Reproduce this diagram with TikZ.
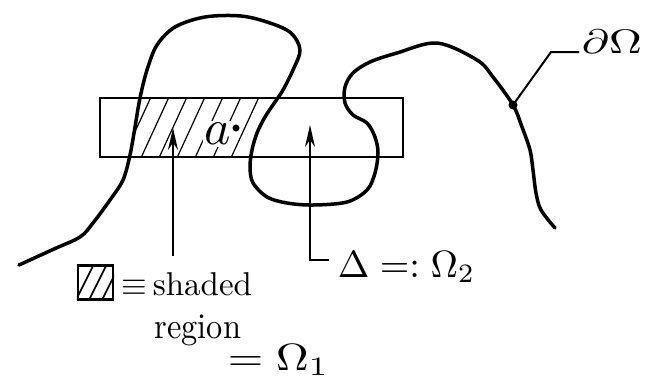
\documentclass[tikz,border=0pt]{standalone}
\usetikzlibrary{arrows.meta}
\begin{document}
\begin{tikzpicture}[x=1pt,y=-1pt,
  curve/.style={line width=3.5pt,line cap=round,line join=round},
  frame/.style={line width=2.4pt},
  pointer/.style={line width=2pt,-{Stealth[length=22pt,width=10pt]}},
  leader/.style={line width=2pt},
  hatch/.style={line width=1.2pt},
  lbl/.style={inner sep=0pt}]
\useasboundingbox (0,0) rectangle (652,391);

% hatched part of the strip (Omega_1)
\begin{scope}
  \clip (140,98) -- (135,127) -- (131,150) -- (130,157) -- (251,157) -- (252,150) -- (257,133) -- (265,117) -- (278,98) -- cycle;
  \foreach \x in {104,122,...,300} \draw[hatch] (\x,160) -- ++(29,-63);
\end{scope}

% the strip Delta
\draw[frame] (100,98) rectangle (403,157);

% boundary curve
\draw[curve] plot[smooth,tension=0.55] coordinates {
 (19,265) (54,249) (80,237) (93,223) (110,200) (123,180) (130,155) (135,127)
 (140,98) (147,70) (157,45) (175,27) (205,17) (241,16) (270,23) (291,33)
 (300,50) (293,70) (283,90) (275,102) (265,117) (257,133) (252,150) (250,167)
 (253,183) (267,197) (287,203) (313,205) (347,202) (367,190) (375,173) (378,153)
 (375,137) (367,123) (353,115) (345,103) (345,87) (353,73) (370,62) (397,53)
 (437,43) (477,60) (493,77) (513,105) (522,127) (530,150) (533,170) (536,193)
 (541,210) (555,228)};

% point a
\node[lbl,fill=white,inner sep=0.4pt,scale=5] (alab) at (218,134) {$a$};
\node[circle,fill,inner sep=0pt,minimum size=7pt] (adot) at (236,128) {};

% label of the boundary
\node[circle,fill,inner sep=0pt,minimum size=9pt] (pd) at (513,105) {};
\coordinate (lk) at (551,52);
\coordinate (le) at (579,52);
\node[lbl,anchor=base west,scale=3.4,xscale=1.35] (dO) at (581,53) {$\partial\Omega$};
\draw[leader] (pd.center) -- (lk) -- (le);

% arrow to the shaded region
\coordinate (s1) at (173,256);
\coordinate (t1) at (173,128);
\draw[pointer] (s1) -- (t1);

% arrow to Delta = Omega_2
\node[lbl,anchor=base west,scale=3.8] (om2) at (337,277) {$\Delta =: \Omega_2$};
\coordinate (c2) at (329,260);
\coordinate (k2) at (310,260);
\coordinate (t2) at (310,125);
\draw[pointer,line join=miter] (c2) -- (k2) -- (t2);

% legend
\node[draw,line width=2.2pt,minimum width=35pt,minimum height=34pt,inner sep=0pt] (leg) at (95.5,282.5) {};
\begin{scope}
  \clip (leg.south west) rectangle (leg.north east);
  \foreach \x in {75,88,101} \draw[line width=1.6pt] (\x,302) -- ++(20,-40);
\end{scope}
\node[lbl,anchor=base west,scale=3.3] (shd) at (121,295) {$\equiv$\,shaded};
\node[lbl,anchor=base west,scale=3.6,xscale=0.9] (reg) at (154,338) {region};
\node[lbl,anchor=base west,scale=3.8,xscale=1.2] (om1) at (227,370) {$=\Omega_1$};
\end{tikzpicture}
\end{document}
